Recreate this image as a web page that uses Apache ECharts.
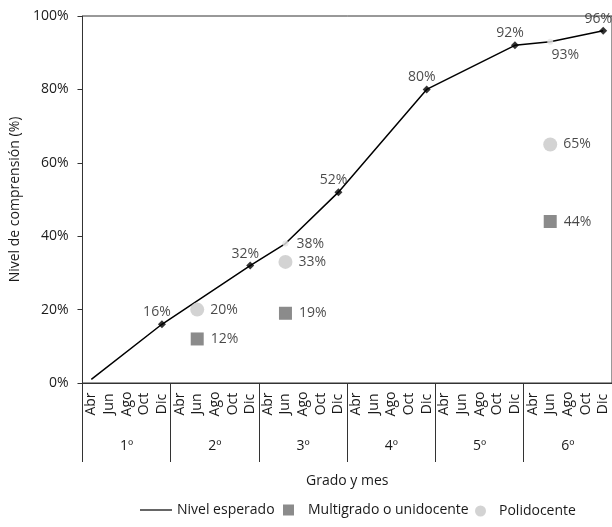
<!DOCTYPE html>
<html>
<head>
<meta charset="utf-8">
<script src="https://cdn.jsdelivr.net/npm/echarts@6/dist/echarts.min.js"></script>
<style>
  html, body { margin: 0; padding: 0; background: #fff; }
  #chart { width: 612px; height: 527px; }
</style>
</head>
<body>
<div id="chart"></div>
<script>
const months = ['Abr', 'Jun', 'Ago', 'Oct', 'Dic']
const grades = ['1º', '2º', '3º', '4º', '5º', '6º']
const yTicks = [0, 20, 40, 60, 80, 100]

// nivel esperado
const esperadoInicio = 1          // Abr de 1º
const esperadoDic = [16, 32, 52, 80, 92, 96]
const esperadoJun = [null, null, 38, null, null, 93]

// resultados observados en junio
const multigradoJun = [null, 12, 19, null, null, 44]
const polidocenteJun = [null, 20, 33, null, null, 65]

const FONT = '"Open Sans", "DejaVu Sans", sans-serif'
const FS = 14
const TXT = '#1a1a1a'
const AX = '#333'

// 30 categorias: mes x grado
const cats = []
grades.forEach(() => months.forEach(m => cats.push(m)))

const slot = (g, m) => g * months.length + m
const empty = () => cats.map(() => null)

const lineData = empty()
lineData[0] = esperadoInicio
esperadoDic.forEach((v, g) => { if (v != null) lineData[slot(g, 4)] = v })
esperadoJun.forEach((v, g) => { if (v != null) lineData[slot(g, 1)] = v })

const dicData = empty()
esperadoDic.forEach((v, g) => { dicData[slot(g, 4)] = v })

const junData = empty()
esperadoJun.forEach((v, g) => {
  if (v == null) return
  // el ultimo punto lleva la etiqueta debajo
  junData[slot(g, 1)] = g === grades.length - 1
    ? { value: v, label: { position: 'bottom', offset: [15, -5] } }
    : v
})

const multiData = empty()
multigradoJun.forEach((v, g) => { if (v != null) multiData[slot(g, 1)] = v })
const poliData = empty()
polidocenteJun.forEach((v, g) => { if (v != null) poliData[slot(g, 1)] = v })

const pct = p => p.value + '%'
const labelBase = { show: true, formatter: pct, color: TXT, fontSize: FS, fontFamily: FONT }
const txt = { color: TXT, fontSize: FS, fontFamily: FONT }

const chart = echarts.init(document.getElementById('chart'), null, { renderer: 'canvas' })

chart.setOption({
  animation: false,
  textStyle: { fontFamily: FONT },
  grid: {
    left: 80, top: 16, width: 534, height: 367,
    show: true, borderColor: AX, borderWidth: 1
  },
  xAxis: [
    {
      type: 'category',
      data: cats,
      axisLine: { lineStyle: { color: AX, width: 1 } },
      axisTick: { show: false },
      axisLabel: Object.assign({
        interval: 0, rotate: 90, margin: 21,
        align: 'center', verticalAlign: 'middle'
      }, txt)
    },
    {
      type: 'category',
      data: grades,
      position: 'bottom',
      axisLine: { show: false },
      axisTick: { show: true, interval: 0, length: 79, lineStyle: { color: AX, width: 1 } },
      axisLabel: Object.assign({ interval: 0, margin: 56 }, txt),
      name: 'Grado y mes',
      nameLocation: 'middle',
      nameGap: 91,
      nameTextStyle: txt
    }
  ],
  yAxis: {
    type: 'value',
    min: yTicks[0], max: yTicks[yTicks.length - 1], interval: 20,
    splitLine: { show: false },
    axisLine: { show: true, lineStyle: { color: AX, width: 1 } },
    axisTick: { show: true, length: 5, lineStyle: { color: AX } },
    axisLabel: Object.assign({ formatter: '{value}%', margin: 14 }, txt),
    name: 'Nivel de comprensión (%)',
    nameLocation: 'middle',
    nameGap: 55,
    nameTextStyle: txt
  },
  legend: [
    {
      data: [{ name: 'Nivel esperado', itemStyle: { color: '#000' } }],
      icon: 'rect', itemWidth: 32, itemHeight: 1.2,
      left: 135, top: 498,
      textStyle: txt
    },
    {
      data: ['Multigrado o unidocente'],
      icon: 'rect', itemWidth: 11, itemHeight: 11,
      left: 278, top: 498,
      textStyle: Object.assign({ padding: [0, 0, 0, 9] }, txt)
    },
    {
      data: ['Polidocente'],
      icon: 'circle', itemWidth: 11, itemHeight: 11,
      left: 470, top: 499,
      textStyle: Object.assign({ padding: [0, 0, 0, 8] }, txt)
    }
  ],
  series: [
    {
      name: 'Nivel esperado',
      type: 'line',
      data: lineData,
      connectNulls: true,
      symbol: 'none',
      color: '#000',
      lineStyle: { color: '#000', width: 1.5 },
      z: 2
    },
    {
      name: 'hitos',
      type: 'scatter',
      data: dicData,
      symbol: 'diamond',
      symbolSize: 8,
      itemStyle: { color: '#000' },
      label: Object.assign({}, labelBase, { position: 'top', distance: 1, offset: [-5, 0] }),
      z: 4
    },
    {
      name: 'junio esperado',
      type: 'scatter',
      data: junData,
      symbolSize: 6,
      itemStyle: { color: '#e4e4e4' },
      label: Object.assign({}, labelBase, { position: 'right', distance: 8 }),
      z: 3
    },
    {
      name: 'Multigrado o unidocente',
      type: 'scatter',
      data: multiData,
      symbol: 'rect',
      symbolSize: 13,
      itemStyle: { color: '#6e6e6e' },
      label: Object.assign({}, labelBase, { position: 'right', distance: 7 }),
      z: 3
    },
    {
      name: 'Polidocente',
      type: 'scatter',
      data: poliData,
      symbolSize: 14,
      itemStyle: { color: '#c8c8c8' },
      label: Object.assign({}, labelBase, { position: 'right', distance: 6 }),
      z: 3
    }
  ]
})
</script>
</body>
</html>
